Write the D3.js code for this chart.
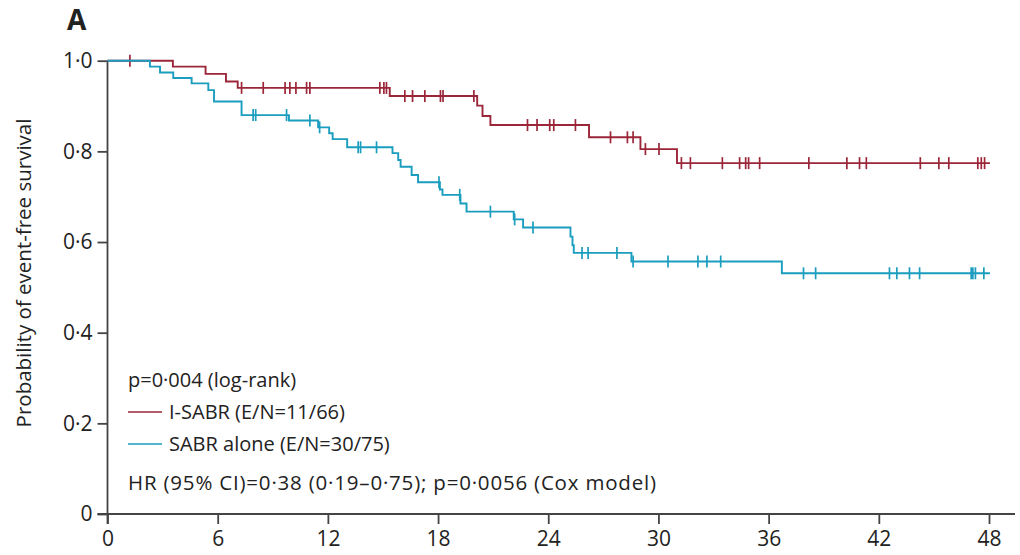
<!DOCTYPE html>
<html>
<head>
<meta charset="utf-8">
<script src="https://cdn.jsdelivr.net/npm/d3@7"></script>
<style>
  body { margin: 0; background: #fff; }
  text { font-family: "Open Sans", sans-serif; fill: #222; }
</style>
</head>
<body>
<div id="chart"></div>
<script>
// Kaplan-Meier steps, [month, survival after the drop]
var isabrSteps = [
  [3.56, 0.987], [5.34, 0.971], [6.45, 0.954], [7.09, 0.940], [15.37, 0.922],
  [20.13, 0.901], [20.42, 0.878], [20.85, 0.858], [26.22, 0.831], [29.02, 0.805],
  [31.01, 0.774]
];
var isabrCensor = [
  1.22, 7.30, 8.48, 9.67, 9.93, 10.26, 10.84, 11.02, 14.83, 15.05, 15.19,
  16.19, 16.61, 17.28, 18.13, 18.27, 19.95, 22.87, 23.39, 24.08, 24.30, 25.48,
  27.39, 28.31, 28.62, 29.29, 30.03, 31.25, 31.74, 33.48, 34.42, 34.75, 34.91,
  35.51, 38.19, 40.26, 40.95, 41.32, 44.26, 45.27, 45.81, 47.39, 47.58, 47.76
];
var sabrSteps = [
  [2.31, 0.987], [2.86, 0.974], [3.58, 0.962], [4.58, 0.950], [5.49, 0.935],
  [5.80, 0.910], [7.30, 0.880], [9.88, 0.868], [11.47, 0.853], [12.07, 0.840],
  [12.26, 0.827], [13.05, 0.809], [15.52, 0.796], [15.83, 0.781], [15.96, 0.766],
  [16.56, 0.748], [16.91, 0.732], [18.10, 0.716], [18.24, 0.704], [19.22, 0.685],
  [19.55, 0.667], [22.12, 0.650], [22.63, 0.632], [25.21, 0.612], [25.32, 0.593],
  [25.39, 0.576], [28.53, 0.557], [36.72, 0.531]
];
var sabrCensor = [
  7.93, 8.07, 9.75, 11.02, 11.55, 13.65, 13.78, 14.65, 18.05, 19.18, 20.85,
  22.17, 23.17, 25.84, 26.17, 27.74, 28.62, 30.52, 32.15, 32.64, 33.39, 37.90,
  38.56, 42.58, 42.98, 43.67, 44.22, 47.03, 47.12, 47.26, 47.72
];
var endMonth = 48.05;
var xTicks = [0, 6, 12, 18, 24, 30, 36, 42, 48];
var yTicks = [0, 0.2, 0.4, 0.6, 0.8, 1.0];

var red = "#9b2639", blue = "#1a9dbe";

var W = 1020, H = 555;
var svg = d3.select("#chart").append("svg")
    .attr("width", W).attr("height", H);

var x = d3.scaleLinear().domain([0, 48]).range([107.5, 989]);
var y = d3.scaleLinear().domain([0, 1]).range([514, 60.7]);

// axes
var xAxis = svg.append("g")
    .attr("transform", "translate(0," + y(0) + ")")
    .call(d3.axisBottom(x).tickValues(xTicks).tickSize(10).tickSizeOuter(0).tickPadding(7));
xAxis.select(".domain").attr("d", "M" + (x(0) - 10) + ",0H1015");

var yAxis = svg.append("g")
    .attr("transform", "translate(" + x(0) + ",0)")
    .call(d3.axisLeft(y).tickValues(yTicks).tickSize(10).tickSizeOuter(0).tickPadding(5)
      .tickFormat(function(d) { return d === 0 ? "0" : d3.format(".1f")(d).replace(".", "\u00b7"); }));
yAxis.select(".domain").attr("d", "M0," + y(1) + "V" + (y(0) + 10));

svg.selectAll(".tick line, .domain").attr("stroke", "#444").attr("stroke-width", 1.8);
svg.selectAll(".tick text").style("font-size", "21px").attr("fill", "#222");

svg.append("text")
    .attr("transform", "translate(31," + 273 + ") rotate(-90)")
    .attr("text-anchor", "middle")
    .style("font-size", "20.5px")
    .text("Probability of event-free survival");

svg.append("text")
    .attr("x", 67).attr("y", 30)
    .style("font-size", "28px").style("font-weight", "bold")
    .text("A");

// curves
var line = d3.line()
    .x(function(d) { return x(d[0]); })
    .y(function(d) { return y(d[1]); })
    .curve(d3.curveStepAfter);

function survAt(steps, t) {
  var s = 1;
  steps.forEach(function(d) { if (d[0] <= t) s = d[1]; });
  return s;
}

function drawCurve(steps, censor, color) {
  var pts = [[0, 1]].concat(steps);
  pts.push([endMonth, steps[steps.length - 1][1]]);
  svg.append("path")
      .datum(pts)
      .attr("fill", "none")
      .attr("stroke", color)
      .attr("stroke-width", 1.9)
      .attr("d", line);

  svg.selectAll(null)
      .data(censor)
      .enter().append("line")
      .attr("x1", function(d) { return x(d); })
      .attr("x2", function(d) { return x(d); })
      .attr("y1", function(d) { return y(survAt(steps, d)) - 6; })
      .attr("y2", function(d) { return y(survAt(steps, d)) + 6; })
      .attr("stroke", color)
      .attr("stroke-width", 1.7);
}

drawCurve(isabrSteps, isabrCensor, red);
drawCurve(sabrSteps, sabrCensor, blue);

// legend
var legend = svg.append("g").style("font-size", "20px");
legend.append("text").attr("x", 128).attr("y", 387).text("p=0\u00b7004 (log-rank)");
legend.append("line").attr("x1", 128).attr("x2", 162).attr("y1", 412).attr("y2", 412)
    .attr("stroke", red).attr("stroke-width", 1.6);
legend.append("text").attr("x", 169).attr("y", 419).text("I-SABR (E/N=11/66)");
legend.append("line").attr("x1", 128).attr("x2", 162).attr("y1", 444).attr("y2", 444)
    .attr("stroke", blue).attr("stroke-width", 1.6);
legend.append("text").attr("x", 169).attr("y", 451).text("SABR alone (E/N=30/75)");
legend.append("text").attr("x", 128).attr("y", 490)
    .style("font-size", "20.5px").style("letter-spacing", "0.8px")
    .text("HR (95% CI)=0\u00b738 (0\u00b719\u20130\u00b775); p=0\u00b70056 (Cox model)");
</script>
</body>
</html>
